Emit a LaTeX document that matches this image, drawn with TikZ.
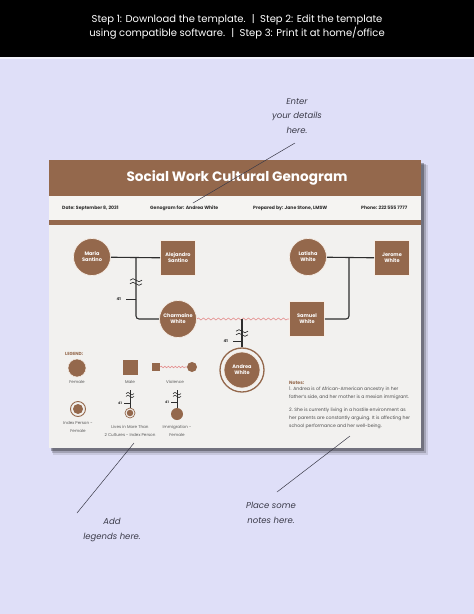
\documentclass[tikz,border=0pt]{standalone}
\usepackage{fontspec}
\setmainfont{Poppins}
\usetikzlibrary{decorations.pathmorphing}
\definecolor{lav}{HTML}{DFDFF8}
\definecolor{brn}{HTML}{94684C}
\definecolor{cardc}{HTML}{F2F1EF}
\definecolor{stripc}{HTML}{F5F4F2}
\definecolor{ln}{HTML}{2E2E2E}
\definecolor{viol}{HTML}{E58E8E}
\definecolor{cream}{HTML}{F7EEE6}
\definecolor{anno}{HTML}{3A3A48}
\begin{document}
\begin{tikzpicture}[x=1pt,y=-1pt,
 lbl/.style={text=white, font=\fontsize{5}{6}\selectfont\bfseries, align=center, inner sep=0pt},
 fem/.style={circle, fill=brn, draw=cream, line width=0.7pt, minimum size=37pt, lbl},
 mal/.style={rectangle, fill=brn, draw=cream, line width=0.7pt, minimum size=35pt, lbl},
 rel/.style={draw=ln, line width=1.1pt},
 tick/.style={draw=ln, line width=0.9pt},
 age/.style={font=\fontsize{4}{5}\selectfont\bfseries, text=ln, inner sep=0pt},
 viol/.style={draw=viol, line width=0.6pt, decorate, decoration={snake, amplitude=1pt, segment length=5pt}},
 leg/.style={font=\fontsize{4.1}{7.8}\selectfont, text=ln!80, align=center, inner sep=0pt},
 info/.style={font=\fontsize{4.6}{5}\selectfont\bfseries, text=ln, inner sep=0pt, anchor=west},
 note/.style={font=\fontsize{4.6}{7.8}\selectfont, text=ln!85, inner sep=0pt, anchor=north west, align=left},
 annot/.style={font=\fontsize{8.5}{14.5}\selectfont\itshape, text=anno, align=center, inner sep=0pt},
 aline/.style={draw=anno, line width=0.5pt},
 brk/.pic={\draw[ln, line width=0.7pt] (-6,-1.8) sin (-3,-3.3) cos (0,-1.8) sin (3,-0.3) cos (6,-1.8);
           \draw[ln, line width=0.7pt] (-6,1.8) sin (-3,0.3) cos (0,1.8) sin (3,3.3) cos (6,1.8);},
 sbrk/.pic={\draw[ln, line width=0.6pt] (-4,-1.4) sin (-2,-2.6) cos (0,-1.4) sin (2,-0.2) cos (4,-1.4);
           \draw[ln, line width=0.6pt] (-4,1.4) sin (-2,0.2) cos (0,1.4) sin (2,2.6) cos (4,1.4);}
]
\path[use as bounding box] (0,0) rectangle (474,614);
\fill[lav] (0,0) rectangle (474,614);
% header
\fill[black] (0,0) rectangle (474,57);
\fill[white!60!lav] (0,57) rectangle (474,59);
\node[font=\fontsize{10}{14}\selectfont, text=white, align=center] (hdr) at (237,27)
 {Step 1: Download the template. \ | \ Step 2: Edit the template\\using compatible software. \ | \ Step 3: Print it at home/office};
% card shadow
\fill[black, opacity=0.10] (53,165) rectangle (428,455);
\fill[black, opacity=0.18] (52,164) rectangle (426,453);
\fill[black, opacity=0.30] (51,163) rectangle (424,451);
% card
\fill[cardc] (49,160) rectangle (421,448);
\fill[brn] (49,160) rectangle (421,196);
\fill[stripc] (49,196) rectangle (421,220);
\fill[brn] (49,220) rectangle (421,225);
\node[font=\fontsize{13.6}{15}\selectfont\bfseries, text=white] (title) at (237,178) {Social Work Cultural Genogram};
\node[info] (date) at (62,208) {Date: September 8, 2031};
\node[info] (for) at (150,208) {Genogram for: Andrea White};
\node[info] (prep) at (253,208) {Prepared by: Jane Stone, LMSW};
\node[info] (phone) at (361,208) {Phone: 222 555 7777};
% genogram
\node[fem] (maria) at (92,257) {Maria\\Santino};
\node[mal] (alej) at (178,258) {Alejandro\\Santino};
\node[fem] (lat) at (308,257) {Latisha\\White};
\node[mal] (jer) at (392,258) {Jerome\\White};
\node[fem] (charm) at (178,319) {Charmaine\\White};
\node[mal] (sam) at (307,319) {Samuel\\White};
\node[circle, draw=brn, line width=1.3pt, fill=cardc, minimum size=44pt, inner sep=0pt] (andR) at (242,370) {};
\node[fem, minimum size=36pt] (andrea) at (242,370) {Andrea\\White};
\coordinate (m1) at (136,257);
\coordinate (m2) at (349,257);
\coordinate (m3) at (242,319);
\draw[rel] (maria) -- (alej);
\draw[rel] (lat) -- (jer);
\draw[rel, rounded corners=3pt] (m1) |- (charm.west);
\draw[rel, rounded corners=3pt] (m2) |- (sam.east);
\draw[viol] (charm.east) -- (sam.west);
\draw[rel] (m3) -- (andR.north);
\pic at (136,282) {brk};
\pic at (242,333) {brk};
\coordinate (t1a) at (126,299); \coordinate (t1b) at (136,299);
\draw[tick] (t1a) -- (t1b);
\node[age, anchor=east] (a1) at (121,299) {41};
\coordinate (t2a) at (233,341); \coordinate (t2b) at (242,341);
\draw[tick] (t2a) -- (t2b);
\node[age, anchor=east] (a2) at (228,341) {41};
% legend
\node[font=\fontsize{4.4}{5}\selectfont\bfseries, text=brn, anchor=west, inner sep=0pt] (legend) at (65,354) {LEGEND:};
\node[circle, fill=brn, draw=cream, line width=0.5pt, minimum size=18pt, inner sep=0pt] (lfem) at (77,368) {};
\node[leg] (lfemt) at (77,382) {Female};
\node[rectangle, fill=brn, minimum size=15pt, inner sep=0pt] (lmal) at (130,367) {};
\node[leg] (lmalt) at (130,382) {Male};
\node[rectangle, fill=brn, minimum size=8pt, inner sep=0pt] (lvs) at (156,367) {};
\node[circle, fill=brn, minimum size=10pt, inner sep=0pt] (lvc) at (192,367) {};
\draw[viol, decoration={snake, amplitude=0.8pt, segment length=3.5pt}] (lvs.east) -- (lvc.west);
\node[leg] (lvt) at (175,382) {Violence};
\node[circle, draw=brn, line width=0.9pt, fill=cardc, minimum size=15pt, inner sep=0pt] (lidx) at (78,409) {};
\node[circle, fill=brn, minimum size=10pt, inner sep=0pt] (lidxi) at (78,409) {};
\node[leg] (lidxt) at (78,427) {Index Person -\\Female};
\node[circle, draw=brn, line width=0.7pt, fill=cardc, minimum size=10pt, inner sep=0pt] (lmc) at (130,413) {};
\node[circle, fill=brn, minimum size=6.5pt, inner sep=0pt] (lmci) at (130,413) {};
\coordinate (lmtop) at (130,390);
\draw[tick, line width=0.8pt] (lmtop) -- (lmc.north);
\pic at (130,395) {sbrk};
\coordinate (lmta) at (124,403); \coordinate (lmtb) at (130,403);
\draw[tick, line width=0.7pt] (lmta) -- (lmtb);
\node[age, font=\fontsize{3.4}{4}\selectfont\bfseries, anchor=east] (lma) at (122,403) {41};
\node[leg] (lmt) at (130,431) {Lives in More Than\\2 Cultures - Index Person};
\node[circle, fill=brn, minimum size=12pt, inner sep=0pt] (lim) at (177,414) {};
\coordinate (limtop) at (177,390);
\draw[tick, line width=0.8pt] (limtop) -- (lim.north);
\pic at (177,395) {sbrk};
\coordinate (limta) at (171,402); \coordinate (limtb) at (177,402);
\draw[tick, line width=0.7pt] (limta) -- (limtb);
\node[age, font=\fontsize{3.4}{4}\selectfont\bfseries, anchor=east] (lima) at (169,402) {41};
\node[leg] (limt) at (177,431) {Immigration -\\Female};
% notes
\node[font=\fontsize{4.6}{5}\selectfont\bfseries, text=brn, anchor=west, inner sep=0pt] (notes) at (289,383) {Notes:};
\node[note] (n1) at (289,387) {1. Andrea is of African-American ancestry in her\\father's side, and her mother is a mexian immigrant.};
\node[note] (n2) at (289,408) {2. She is currently living in a hostile environment as\\her parents are constantly arguing. It is affecting her\\school performance and her well-being.};
% annotations
\node[annot] (enter) at (297,116) {Enter\\your details\\here.};
\coordinate (e1) at (295,143); \coordinate (e2) at (193,203);
\draw[aline] (e1) -- (e2);
\node[annot] (addl) at (112,530) {Add\\legends here.};
\coordinate (l1) at (134,443); \coordinate (l2) at (77,513);
\draw[aline] (l1) -- (l2);
\node[annot] (place) at (271,513) {Place some\\notes here.};
\coordinate (p1) at (350,436); \coordinate (p2) at (277,492);
\draw[aline] (p1) -- (p2);
\end{tikzpicture}
\end{document}
